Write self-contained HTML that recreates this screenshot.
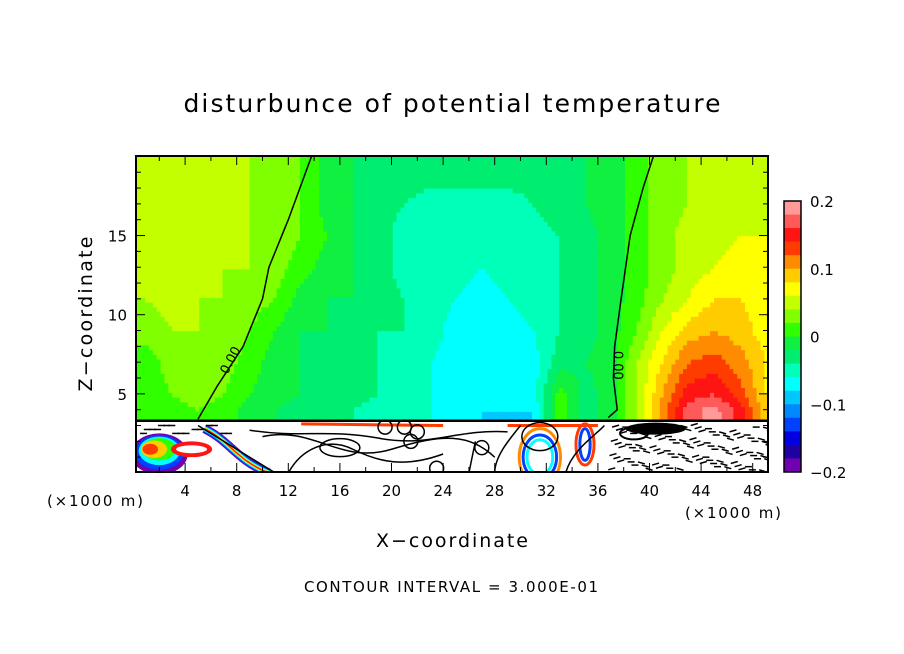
<!DOCTYPE html>
<html><head><meta charset="utf-8"><style>
body{margin:0;background:#fff;width:904px;height:654px;overflow:hidden;font-family:"Liberation Sans",sans-serif}
svg{position:absolute;left:0;top:0}
text{font-family:"DejaVu Sans","Liberation Sans",sans-serif;fill:#000}
</style></head><body>
<svg id="chart" width="904" height="654">
<defs><clipPath id="plotclip"><rect x="136" y="156" width="632" height="316"/></clipPath></defs>
<g id="cells" clip-path="url(#plotclip)"></g>
<g id="lower" clip-path="url(#plotclip)"></g>
<g id="axes"></g>
<g id="cbar"></g>
<text x="452" y="112" font-size="25" text-anchor="middle" textLength="537" lengthAdjust="spacing">disturbunce of potential temperature</text>
<text x="452" y="547" font-size="19" text-anchor="middle" textLength="152" lengthAdjust="spacing">X−coordinate</text>
<text transform="translate(92,314) rotate(-90)" font-size="19" text-anchor="middle" textLength="155" lengthAdjust="spacing">Z−coordinate</text>
<text x="451" y="592" font-size="15" text-anchor="middle" textLength="294" lengthAdjust="spacing">CONTOUR INTERVAL = 3.000E-01</text>
<text x="47" y="506" font-size="15" textLength="96" lengthAdjust="spacing">(×1000 m)</text>
<text x="685" y="518" font-size="15" textLength="96" lengthAdjust="spacing">(×1000 m)</text>
</svg>
<script>
const xCenters=[1,3,5,7,9,11,13,15,17,19,21,23,25,27,29,31,33,35,37,39,41,43,45,47,49];
const zCenters=[4,5,7,9,11,13,15,17,19];
const row4=[1,1,2,1,-1,-2,-3,-3,-4,-5,-5,-6,-7,-8,-8,-8,1,-3,-1,4,11,17,19,15,9];
const row5=[1,2,3,2,0,-1,-2,-3,-3,-4,-5,-6,-6,-7,-7,-7,1,-3,-1,4,10,15,16,13,8];
const row7=[1,3,4,3,1,-1,-2,-3,-3,-4,-4,-6,-7,-7,-7,-7,-3,-2,-1,4,8,12,13,11,8];
const row9=[3,4,4,4,2,0,-2,-2,-3,-4,-4,-5,-7,-7,-7,-6,-4,-3,-1,2,6,9,10,9,7];
const row11=[4,5,4,4,3,2,-1,-2,-2,-3,-4,-5,-6,-7,-6,-5,-4,-3,-1,1,4,6,8,8,7];
const row13=[5,5,5,4,4,3,1,-1,-2,-3,-5,-5,-5,-6,-5,-5,-4,-3,-1,1,3,5,6,7,7];
const row15=[5,5,5,5,4,3,2,0,-2,-3,-5,-5,-5,-5,-5,-5,-4,-3,-1,1,3,5,5,6,6];
const row17=[5,5,5,5,4,3,2,-1,-2,-3,-4,-5,-5,-5,-5,-4,-3,-2,-1,1,3,4,5,5,6];
const row19=[5,5,5,5,4,3,2,-1,-2,-3,-3,-3,-3,-3,-3,-3,-2,-2,-1,1,3,4,5,5,5];
const rows=[row4,row5,row7,row9,row11,row13,row15,row17,row19];
const bandColors=["#ff9a9a","#ff5a5a","#ff1414","#ff3c00","#ff8c00","#ffcc00","#ffff00","#c4ff00","#80ff00","#30ff00","#10f040","#00ee70","#00ffb8","#00ffff","#00c8ff","#0088ff","#0040ff","#0000e0","#2000a0","#7000b0"];
const cbTicks=["0.2","0.1","0","−0.1","−0.2"];
const cbTickVals=[0.2,0.1,0,-0.1,-0.2];
const xTicks=[4,8,12,16,20,24,28,32,36,40,44,48];
const yTicks=[5,10,15];
const contourLeft=[[5,3.4],[6.5,5.5],[8.5,8],[10,11],[10.5,13],[12,16],[13.8,20]];
const contourRight=[[36.8,3.5],[37.5,4],[37.2,6],[37.3,8],[37.8,11],[38.5,15],[39.5,18],[40.3,20]];

const NS='http://www.w3.org/2000/svg';
const X0=133.5,XS=12.9,Y0=473,YS=15.83;
const L=136,R=768,T=156,B=472,ZB=3.3;
const sx=v=>X0+XS*v, sy=v=>Y0-YS*v;
function mk(t,a,p){const e=document.createElementNS(NS,t);for(const k in a)e.setAttribute(k,a[k]);(p||document.getElementById('chart')).appendChild(e);return e;}
function colorFor(v){let i=Math.floor((0.2-v/100)/0.02);i=Math.max(0,Math.min(19,i));return bandColors[i];}
function interp(x,z){
 let i=0;while(i<xCenters.length-2&&x>xCenters[i+1])i++;
 let j=0;while(j<zCenters.length-2&&z>zCenters[j+1])j++;
 let tx=(x-xCenters[i])/(xCenters[i+1]-xCenters[i]);tx=Math.max(0,Math.min(1,tx));
 let tz=(z-zCenters[j])/(zCenters[j+1]-zCenters[j]);tz=Math.max(0,Math.min(1,tz));
 const a=rows[j][i],b=rows[j][i+1],c=rows[j+1][i],d=rows[j+1][i+1];
 return (a*(1-tx)+b*tx)*(1-tz)+(c*(1-tx)+d*tx)*tz;
}
const cells=document.getElementById('cells');
const dx=0.3,dz=0.3;
for(let x=0;x<49.4;x+=dx){for(let z=ZB;z<20.1;z+=dz){
 const v=interp(x+dx/2,z+dz/2);
 const r=mk('rect',{x:sx(x),y:sy(z+dz),width:XS*dx+0.6,height:YS*dz+0.6,fill:colorFor(v)},cells);
 
 
}}
// lower layer
const low=document.getElementById('lower');
mk('rect',{x:L,y:sy(ZB),width:R-L,height:B-sy(ZB),fill:'#fff'},low);
const fills=[[2,1.2,'#7000b0',2.2,1.3],[2,1.3,'#0040ff',1.9,1.1],[2,1.4,'#00ffff',1.6,0.9],[2,1.5,'#30ff00',1.3,0.7],[1.6,1.5,'#ffcc00',1,0.55],[1.3,1.5,'#ff3c00',0.6,0.35],[4.5,1.5,'#ff1414',1.6,0.5],[4.5,1.5,'#fff',1.2,0.25]];
fills.forEach(b=>mk('ellipse',{cx:sx(b[0]),cy:sy(b[1]),rx:XS*b[3],ry:YS*b[4],fill:b[2]},low));
const bands=[['#7000b0',9],['#0040ff',7],['#00ffff',5],['#ffff00',3],['#ff1414',1.5]];
bands.forEach(b=>mk('path',{d:`M${sx(5.5)},${sy(2.8)} C${sx(7.5)},${sy(2)} ${sx(8)},${sy(0.8)} ${sx(10.5)},${sy(0)}`,stroke:b[0],fill:'none','stroke-width':b[1]},low));
const rings=[[31.5,1,'#0040ff',1.3,1.4],[31.5,1,'#00ffff',1.0,1.1],[31.5,1,'#ff8c00',1.6,1.8],[35,1.8,'#ff3c00',0.7,1.3],[35,1.8,'#0040ff',0.4,1]];
rings.forEach(b=>mk('ellipse',{cx:sx(b[0]),cy:sy(b[1]),rx:XS*b[3],ry:YS*b[4],fill:'none',stroke:b[2],'stroke-width':3},low));
mk('path',{d:`M${sx(13)},${sy(3.1)} L${sx(24)},${sy(3.0)} M${sx(29)},${sy(3.0)} L${sx(36)},${sy(3.0)}`,stroke:'#ff3c00',fill:'none','stroke-width':3},low);
const curves=[`M${sx(5)},${sy(3)} C${sx(7)},${sy(2)} ${sx(9)},${sy(1)} ${sx(11)},${sy(0)}`,
`M${sx(10)},${sy(2.3)} C${sx(14)},${sy(3)} ${sx(16)},${sy(0.5)} ${sx(20)},${sy(1.5)} S${sx(26)},${sy(2.5)} ${sx(28)},${sy(1)}`,
`M${sx(9)},${sy(2.7)} C${sx(13)},${sy(2.2)} ${sx(15)},${sy(2.8)} ${sx(19)},${sy(2.2)} S${sx(25)},${sy(2.8)} ${sx(29)},${sy(2.6)}`,
`M${sx(12)},${sy(0)} C${sx(13)},${sy(1.5)} ${sx(15)},${sy(2.3)} ${sx(17)},${sy(1.5)} S${sx(21)},${sy(0.3)} ${sx(24)},${sy(1.2)}`,
`M${sx(26)},${sy(0)} L${sx(26.5)},${sy(2)} M${sx(28)},${sy(0)} C${sx(28)},${sy(1)} ${sx(29)},${sy(2)} ${sx(30)},${sy(3)}`,
`M${sx(33.5)},${sy(0)} C${sx(34)},${sy(1.5)} ${sx(36)},${sy(2.5)} ${sx(36.5)},${sy(3)}`];
curves.forEach(d=>mk('path',{d:d,stroke:'#000',fill:'none','stroke-width':1.5},low));
mk('ellipse',{cx:sx(16),cy:sy(1.6),rx:20,ry:9,fill:'none',stroke:'#000','stroke-width':1.5},low);
mk('ellipse',{cx:sx(31.5),cy:sy(2.3),rx:18,ry:14,fill:'none',stroke:'#000','stroke-width':1.5},low);
[[19.5,2.9],[21,2.9],[22,2.6],[21.5,2],[27,1.6],[23.5,0.3]].forEach(c=>mk('ellipse',{cx:sx(c[0]),cy:sy(c[1]),rx:7,ry:7,fill:'none',stroke:'#000','stroke-width':1.5},low));
for(let i=0;i<110;i++){const x=36.8+(i*7.3)%12.5,z=0.2+((i*3.7)%2.9);mk('line',{x1:sx(x),y1:sy(z),x2:sx(x)+7,y2:sy(z)+(i%3-1)*2,stroke:'#000','stroke-width':1.5},low);}
for(let i=0;i<16;i++){const x=0.5+(i*1.1)%7,z=2.5+(i%3)*0.25;mk('line',{x1:sx(x),y1:sy(z),x2:sx(x)+7,y2:sy(z),stroke:'#000','stroke-width':1.5},low);}
mk('ellipse',{cx:sx(40.5),cy:sy(2.8),rx:30,ry:6,fill:'#000'},low);
mk('ellipse',{cx:sx(38.8),cy:sy(2.5),rx:14,ry:6,fill:'none',stroke:'#000','stroke-width':2},low);
mk('line',{x1:L,y1:sy(ZB),x2:R,y2:sy(ZB),stroke:'#000','stroke-width':2.5},low);
// contours
const ax=document.getElementById('axes');
[contourLeft,contourRight].forEach((c,k)=>{
 const p=mk('polyline',{points:c.map(q=>sx(q[0])+','+sy(q[1])).join(' '),fill:'none',stroke:'#000','stroke-width':1.5},ax);
 
 
});
mk('text',{x:sx(7.8),y:sy(7),'font-size':13,transform:`rotate(-62 ${sx(7.8)} ${sy(7)})`,'text-anchor':'middle'},ax).textContent='0.00';
mk('text',{x:sx(37.2),y:sy(6.8),'font-size':13,transform:`rotate(90 ${sx(37.2)} ${sy(6.8)})`,'text-anchor':'middle'},ax).textContent='0.00';
// frame + ticks
mk('rect',{x:L,y:T,width:R-L,height:B-T,fill:'none',stroke:'#000','stroke-width':2},ax);
for(let v=2;v<=48;v+=2){const big=v%4==0;mk('line',{x1:sx(v),y1:B,x2:sx(v),y2:B-(big?9:5),stroke:'#000'},ax);mk('line',{x1:sx(v),y1:T,x2:sx(v),y2:T+(big?9:5),stroke:'#000'},ax);}
for(let v=1;v<=19;v++){const big=v%5==0;mk('line',{x1:L,y1:sy(v),x2:L+(big?9:5),y2:sy(v),stroke:'#000'},ax);mk('line',{x1:R,y1:sy(v),x2:R-(big?9:5),y2:sy(v),stroke:'#000'},ax);}
xTicks.forEach(v=>{const t=mk('text',{x:sx(v),y:496,'font-size':15,'text-anchor':'middle'},ax);t.textContent=v;});
yTicks.forEach(v=>{const t=mk('text',{x:127,y:sy(v)+6,'font-size':15,'text-anchor':'end'},ax);t.textContent=v;});
// colorbar
const cb=document.getElementById('cbar');const cT=201,cB=472,cL=784,cW=17,bh=(cB-cT)/20;
bandColors.forEach((c,i)=>{const r=mk('rect',{x:cL,y:cT+i*bh,width:cW,height:bh+0.5,fill:c},cb);});
mk('rect',{x:cL,y:cT,width:cW,height:cB-cT,fill:'none',stroke:'#000','stroke-width':1.5},cb);
cbTicks.forEach((s,i)=>{const y=cT+(0.2-cbTickVals[i])/0.4*(cB-cT);const t=mk('text',{x:810,y:y+6,'font-size':15},cb);t.textContent=s;});
</script>
</body></html>
